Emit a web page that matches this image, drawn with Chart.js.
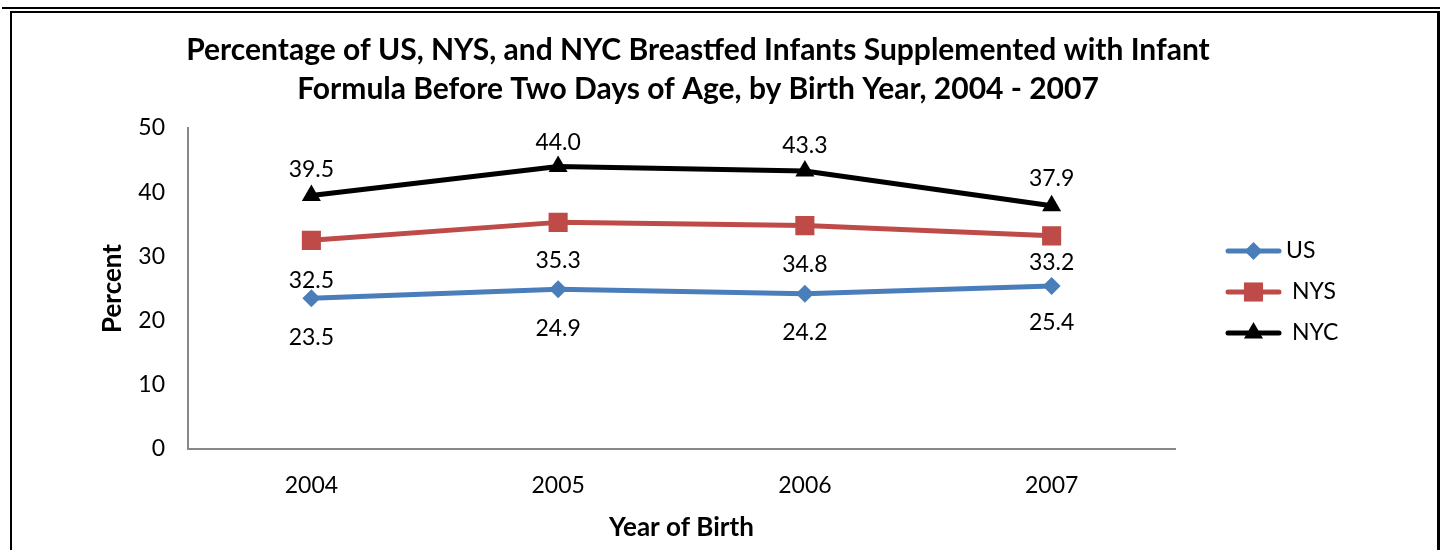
<!DOCTYPE html>
<html>
<head>
<meta charset="utf-8">
<script src="https://cdn.jsdelivr.net/npm/chart.js@4/dist/chart.umd.min.js"></script>
<style>
  body { margin: 0; background: #fff; width: 1448px; height: 550px; overflow: hidden; position: relative; }
  #topline { position: absolute; left: 2px; top: 7px; width: 1438px; height: 2px; background: #000; }
  #box { position: absolute; left: 10px; top: 11px; width: 1425px; height: 560px;
         border-left: 2px solid #000; border-top: 2px solid #000; border-right: 3px solid #000; }
  #chart { position: absolute; left: 12px; top: 13px; }
</style>
</head>
<body>
<div id="topline"></div>
<div id="box"></div>
<canvas id="chart" width="1372" height="537"></canvas>
<script>
// chart data
const years = ['2004', '2005', '2006', '2007'];
const usValues = [23.5, 24.9, 24.2, 25.4];
const nysValues = [32.5, 35.3, 34.8, 33.2];
const nycValues = [39.5, 44.0, 43.3, 37.9];
const yTicks = [0, 10, 20, 30, 40, 50];

const FONT = 'Lato, "Noto Sans", sans-serif';

// value labels next to each point
const valueLabels = {
    id: 'valueLabels',
    afterDatasetsDraw(chart) {
        const ctx = chart.ctx;
        ctx.save();
        ctx.font = '23px ' + FONT;
        ctx.fillStyle = '#000';
        ctx.textAlign = 'center';
        ctx.textBaseline = 'middle';
        chart.data.datasets.forEach(function(ds, i) {
            const meta = chart.getDatasetMeta(i);
            meta.data.forEach(function(pt, j) {
                ctx.fillText(ds.data[j].toFixed(1), pt.x, pt.y + ds.labelOffset[j]);
            });
        });
        ctx.restore();
    }
};

// legend on the right, line + marker like the original
const sideLegend = {
    id: 'sideLegend',
    afterDraw(chart) {
        const ctx = chart.ctx;
        const rows = [238, 279, 320];
        const textX = [1274, 1280, 1280];
        ctx.save();
        chart.data.datasets.forEach(function(ds, i) {
            const y = rows[i];
            ctx.strokeStyle = ds.borderColor;
            ctx.lineWidth = 5;
            ctx.lineCap = 'round';
            ctx.beginPath();
            ctx.moveTo(1216, y);
            ctx.lineTo(1267, y);
            ctx.stroke();
            ctx.fillStyle = ds.pointBackgroundColor;
            Chart.helpers.drawPoint(ctx, {
                pointStyle: ds.pointStyle, radius: ds.pointRadius, rotation: 0, borderWidth: 0
            }, 1241.5, y);
            ctx.fillStyle = '#000';
            ctx.font = '23px ' + FONT;
            ctx.textAlign = 'left';
            ctx.textBaseline = 'middle';
            ctx.fillText(ds.label, textX[i], y);
        });
        ctx.restore();
    }
};

new Chart(document.getElementById('chart'), {
    type: 'line',
    data: {
        labels: years,
        datasets: [
            {
                label: 'US', data: usValues,
                borderColor: '#4a7ebb', backgroundColor: '#4a7ebb', pointBackgroundColor: '#4a7ebb',
                pointStyle: 'rectRot', pointRadius: 9, borderWidth: 5, labelOffset: [39, 39, 39, 37]
            },
            {
                label: 'NYS', data: nysValues,
                borderColor: '#be4b48', backgroundColor: '#be4b48', pointBackgroundColor: '#be4b48',
                pointStyle: 'rect', pointRadius: 13.5, borderWidth: 5, labelOffset: [40, 38, 39, 27]
            },
            {
                label: 'NYC', data: nycValues,
                borderColor: '#000', backgroundColor: '#000', pointBackgroundColor: '#000',
                pointStyle: 'triangle', pointRadius: 11, borderWidth: 5, labelOffset: [-26, -24, -25, -27]
            }
        ]
    },
    options: {
        responsive: false,
        animation: false,
        devicePixelRatio: 1,
        layout: { padding: 0 },
        datasets: {
            line: {
                pointBorderWidth: 0,
                borderJoinStyle: 'round',
                borderCapStyle: 'round',
                tension: 0,
                pointHoverRadius: 9
            }
        },
        plugins: {
            legend: { display: false },
            tooltip: { enabled: false },
            title: {
                display: true,
                text: ['Percentage of US, NYS, and NYC Breastfed Infants Supplemented with Infant',
                       'Formula Before Two Days of Age, by Birth Year, 2004 - 2007'],
                color: '#000',
                font: { family: FONT, size: 30, weight: 'bold', lineHeight: 1.3 },
                padding: { top: 17.5, bottom: 19.5 }
            }
        },
        scales: {
            x: {
                offset: true,
                grid: { display: false, drawTicks: false },
                border: { color: '#888', width: 2 },
                ticks: { color: '#000', font: { family: FONT, size: 23 }, padding: 23 },
                title: {
                    display: true, text: 'Year of Birth', color: '#000',
                    font: { family: FONT, size: 26, weight: 'bold' },
                    padding: { top: 0, bottom: 7 }
                },
                afterFit(s) { s.height = 101; }
            },
            y: {
                min: 0, max: 50,
                grid: { display: false, drawTicks: false },
                border: { color: '#888', width: 2 },
                ticks: { color: '#000', font: { family: FONT, size: 23 }, padding: 23, stepSize: 10,
                         callback: function(v) { return yTicks.includes(v) ? v : ''; } },
                title: {
                    display: true, text: 'Percent', color: '#000',
                    font: { family: FONT, size: 26, weight: 'bold' },
                    padding: { top: 85, bottom: 0 }
                },
                afterFit(s) { s.width = 176; }
            },
            // empty axis that only keeps room for the legend
            side: {
                type: 'linear', position: 'right', display: true,
                grid: { display: false, drawTicks: false },
                border: { display: false },
                ticks: { display: false },
                afterFit(s) { s.width = 209; }
            }
        }
    },
    plugins: [valueLabels, sideLegend]
});
</script>
</body>
</html>
